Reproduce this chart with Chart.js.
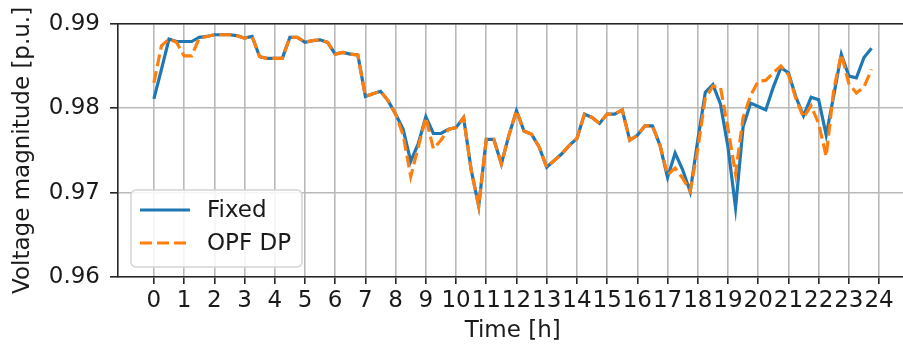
<!DOCTYPE html>
<html>
<head>
<meta charset="utf-8">
<script src="https://cdn.jsdelivr.net/npm/chart.js@4.4.1/dist/chart.umd.min.js"></script>
<style>
  html, body { margin:0; padding:0; background:#fff; overflow:hidden; }
  canvas { display:block; }
</style>
</head>
<body>
<canvas id="chartVoltage" width="912" height="353"></canvas>
<script>
// 15-minute samples over one day
const STEP_H = 0.25;
const HOUR_TICKS = [0,1,2,3,4,5,6,7,8,9,10,11,12,13,14,15,16,17,18,19,20,21,22,23,24];
const V_TICKS = [0.96, 0.97, 0.98, 0.99];

const FIXED = [
  0.9811, 0.9846, 0.9882, 0.9879,  0.9879, 0.9879, 0.9884, 0.9885,
  0.9887, 0.9887, 0.9887, 0.9886,  0.9883, 0.9885, 0.9861, 0.9859,
  0.9859, 0.9859, 0.9884, 0.9884,  0.9878, 0.9880, 0.9881, 0.9878,
  0.9864, 0.9866, 0.9864, 0.9863,  0.9814, 0.9817, 0.9820, 0.9809,
  0.9793, 0.9775, 0.9737, 0.9758,  0.9790, 0.9770, 0.9770, 0.9775,
  0.9777, 0.9789, 0.9727, 0.9684,  0.9763, 0.9763, 0.9734, 0.9768,
  0.9797, 0.9773, 0.9769, 0.9754,  0.9730, 0.9738, 0.9746, 0.9756,
  0.9764, 0.9793, 0.9789, 0.9782,  0.9793, 0.9793, 0.9798, 0.9762,
  0.9768, 0.9779, 0.9779, 0.9756,  0.9718, 0.9747, 0.9727, 0.9701,
  0.9762, 0.9819, 0.9828, 0.9805,  0.9754, 0.9682, 0.9778, 0.9806,
  0.9802, 0.9798, 0.9825, 0.9848,  0.9842, 0.9813, 0.9791, 0.9813,
  0.9810, 0.9768, 0.9815, 0.9864,  0.9838, 0.9836, 0.9860, 0.9871
];

const OPF_DP = [
  0.9830, 0.9874, 0.9882, 0.9878,  0.9862, 0.9862, 0.9883, 0.9885,
  0.9887, 0.9887, 0.9887, 0.9886,  0.9883, 0.9885, 0.9861, 0.9859,
  0.9859, 0.9859, 0.9884, 0.9884,  0.9878, 0.9880, 0.9881, 0.9878,
  0.9864, 0.9866, 0.9864, 0.9863,  0.9814, 0.9817, 0.9820, 0.9809,
  0.9793, 0.9768, 0.9719, 0.9754,  0.9789, 0.9752, 0.9762, 0.9775,
  0.9777, 0.9789, 0.9727, 0.9684,  0.9763, 0.9763, 0.9734, 0.9768,
  0.9797, 0.9773, 0.9769, 0.9754,  0.9730, 0.9738, 0.9746, 0.9756,
  0.9764, 0.9793, 0.9789, 0.9782,  0.9793, 0.9793, 0.9798, 0.9762,
  0.9768, 0.9779, 0.9779, 0.9756,  0.9721, 0.9729, 0.9717, 0.9702,
  0.9752, 0.9812, 0.9826, 0.9825,  0.9776, 0.9722, 0.9789, 0.9815,
  0.9832, 0.9833, 0.9842, 0.9850,  0.9840, 0.9811, 0.9789, 0.9803,
  0.9782, 0.9743, 0.9822, 0.9864,  0.9829, 0.9818, 0.9825, 0.9846
];

const C = { blue:'#1f77b4', orange:'#ff7f0e', grid:'#b9b9b9', axis:'#262626', text:'#1a1a1a' };
const FONT = 'DejaVu Sans';

const toXY = arr => arr.map((v, i) => ({ x: i * STEP_H, y: v }));

// top/right spines of the axes frame
const frame = {
  id: 'frame',
  afterDatasetsDraw(chart) {
    const { ctx, chartArea: a } = chart;
    ctx.save();
    ctx.strokeStyle = C.axis;
    ctx.lineWidth = 1.6;
    ctx.beginPath();
    ctx.moveTo(a.left, a.top); ctx.lineTo(a.right, a.top); ctx.lineTo(a.right, a.bottom);
    ctx.stroke();
    ctx.restore();
  }
};

// boxed legend in the lower-left corner of the plot
const innerLegend = {
  id: 'innerLegend',
  afterDraw(chart) {
    const { ctx, chartArea: a } = chart;
    const x0 = a.left + 13, y0 = a.bottom - 87, w = 171, h = 77;
    ctx.save();
    ctx.fillStyle = 'rgba(255,255,255,0.85)';
    ctx.strokeStyle = '#d4d4d4';
    ctx.lineWidth = 1.5;
    ctx.beginPath();
    ctx.roundRect(x0, y0, w, h, 5);
    ctx.fill(); ctx.stroke();
    ctx.font = `23px "${FONT}"`;
    ctx.textBaseline = 'middle';
    chart.data.datasets.forEach((ds, i) => {
      const yy = y0 + 20 + i * 33;
      ctx.strokeStyle = ds.borderColor;
      ctx.lineWidth = ds.borderWidth;
      ctx.setLineDash(ds.borderDash || []);
      ctx.beginPath();
      ctx.moveTo(x0 + 9, yy); ctx.lineTo(x0 + 59, yy);
      ctx.stroke();
      ctx.setLineDash([]);
      ctx.fillStyle = C.text;
      ctx.fillText(ds.label, x0 + 76, yy + 1);
    });
    ctx.restore();
  }
};

const ctx = document.getElementById('chartVoltage').getContext('2d');
new Chart(ctx, {
  type: 'line',
  data: {
    datasets: [
      { label:'Fixed',  data:toXY(FIXED),  borderColor:C.blue,   borderWidth:3.2, order:2 },
      { label:'OPF DP', data:toXY(OPF_DP), borderColor:C.orange, borderWidth:3.2, borderDash:[12,5], order:1 }
    ]
  },
  options: {
    responsive:false, animation:false,
    layout:{ padding:{ top:23, right:4.6, left:0, bottom:0 } },
    elements:{ point:{ radius:0 }, line:{ tension:0, borderCapStyle:'butt' } },
    plugins:{ legend:{ display:false }, tooltip:{ enabled:false } },
    scales:{
      x:{
        type:'linear', min:-1.1875, max:24.9375,
        afterBuildTicks: s => { s.ticks = HOUR_TICKS.map(v => ({ value:v })); },
        afterFit: s => { s.height = 76; },
        grid:{ color:C.grid, lineWidth:1.6, tickColor:C.axis, tickLength:7, tickWidth:1.6 },
        border:{ color:C.axis, width:1.6 },
        ticks:{ autoSkip:false, maxRotation:0, padding:3, color:C.text, font:{ family:FONT, size:23 } },
        title:{ display:true, text:'Time [h]', color:C.text, font:{ family:FONT, size:23 }, padding:{ bottom:8 } }
      },
      y:{
        min:0.96, max:0.99,
        afterBuildTicks: s => { s.ticks = V_TICKS.map(v => ({ value:v })); },
        afterFit: s => { s.width = 118; },
        grid:{ color:C.grid, lineWidth:1.6, tickColor:C.axis, tickLength:8, tickWidth:1.6 },
        border:{ color:C.axis, width:1.6 },
        ticks:{ padding:10, color:C.text, font:{ family:FONT, size:23 }, callback: v => v.toFixed(2) },
        title:{ display:true, text:'Voltage magnitude [p.u.]', color:C.text, font:{ family:FONT, size:23 }, padding:{ top:9 } }
      }
    }
  },
  plugins:[frame, innerLegend]
});
</script>
</body>
</html>
